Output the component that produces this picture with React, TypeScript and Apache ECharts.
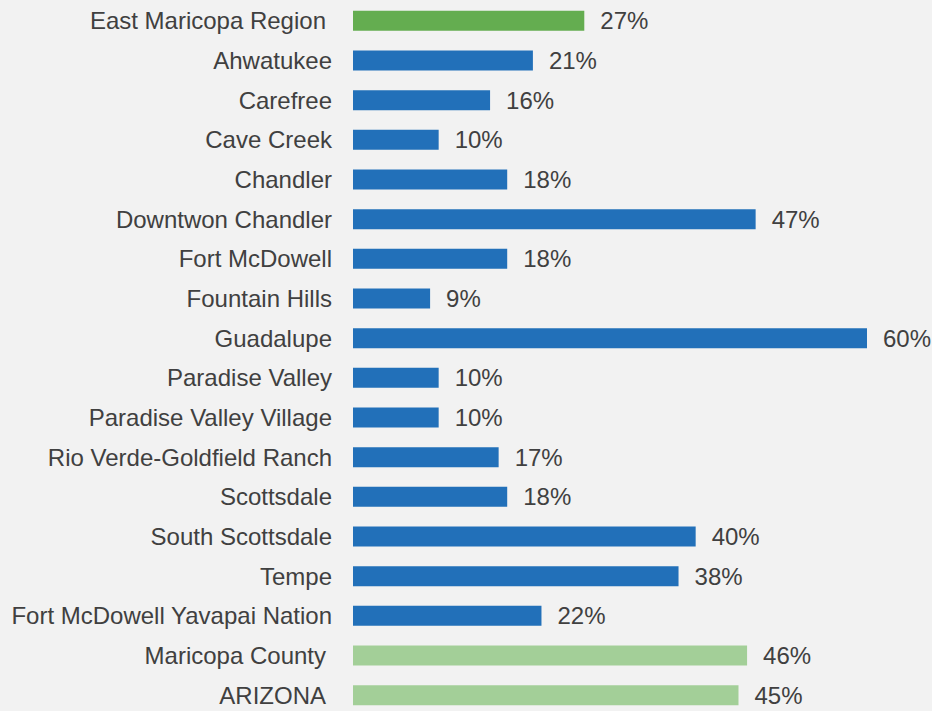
import React, { useEffect, useRef } from "react";
import * as echarts from "echarts";

const categories = [
  "East Maricopa Region",
  "Ahwatukee",
  "Carefree",
  "Cave Creek",
  "Chandler",
  "Downtwon Chandler",
  "Fort McDowell",
  "Fountain Hills",
  "Guadalupe",
  "Paradise Valley",
  "Paradise Valley Village",
  "Rio Verde-Goldfield Ranch",
  "Scottsdale",
  "South Scottsdale",
  "Tempe",
  "Fort McDowell Yavapai Nation",
  "Maricopa County",
  "ARIZONA",
];
const values = [27, 21, 16, 10, 18, 47, 18, 9, 60, 10, 10, 17, 18, 40, 38, 22, 46, 45];
const groups = [
  "region", "place", "place", "place", "place", "place", "place", "place", "place",
  "place", "place", "place", "place", "place", "place", "place", "benchmark", "benchmark",
];

const groupColor: Record<string, string> = {
  region: "#64ad50",
  place: "#2270b9",
  benchmark: "#a3cf98",
};

export default function App() {
  const ref = useRef<HTMLDivElement>(null);
  useEffect(() => {
    if (!ref.current) return;
    const chart = echarts.init(ref.current, undefined, { renderer: "svg" });
    const font = "'Liberation Sans', Arial, sans-serif";
    chart.setOption({
      animation: false,
      backgroundColor: "#f2f2f2",
      grid: {
        left: 353,
        width: 514,
        top: 1,
        height: 714,
        containLabel: false,
        outerBoundsMode: "none",
      },
      xAxis: {
        type: "value",
        min: 0,
        max: 60,
        show: false,
      },
      yAxis: {
        type: "category",
        data: categories,
        inverse: true,
        axisLine: { show: false },
        axisTick: { show: false },
        axisLabel: {
          margin: 21,
          color: "#404040",
          fontSize: 24,
          fontFamily: font,
          formatter: (v: string, i: number) =>
            groups[i] !== "place" ? `{b|${v}}` : v,
          rich: {
            b: { color: "#404040", fontSize: 24, fontFamily: font, padding: [0, 6, 0, 0] },
          },
        },
      },
      series: [
        {
          type: "bar",
          barWidth: 20,
          data: values.map((v, i) => ({
            value: v,
            itemStyle: { color: groupColor[groups[i]] },
          })),
          label: {
            show: true,
            position: "right",
            distance: 16,
            formatter: "{c}%",
            color: "#404040",
            fontSize: 24,
            fontFamily: font,
          },
        },
      ],
    });
    return () => chart.dispose();
  }, []);
  return (
    <div
      ref={ref}
      style={{ position: "fixed", left: 0, top: 0, width: 932, height: 711, background: "#f2f2f2" }}
    />
  );
}
